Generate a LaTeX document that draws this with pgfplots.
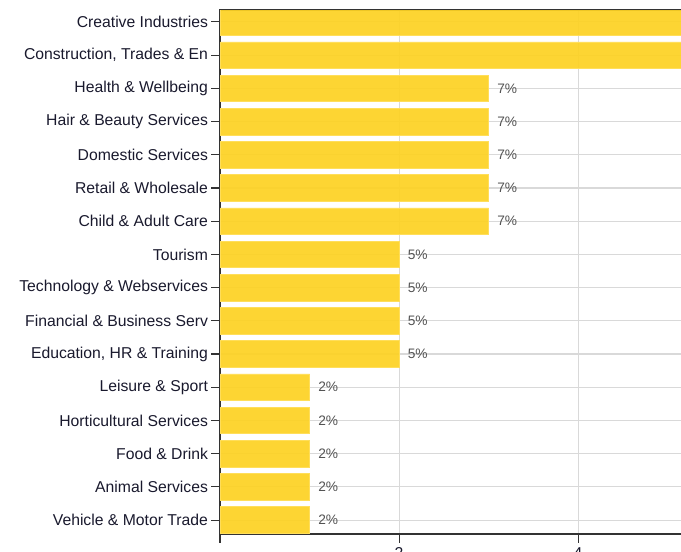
\documentclass[border=0pt]{standalone}
\usepackage{pgfplots}
\pgfplotsset{compat=1.18}
\usepackage{fontspec}
\setmainfont{Liberation Sans}
\definecolor{baryellow}{RGB}{253,210,36}
\definecolor{baredge}{RGB}{255,222,90}
\definecolor{gridgray}{RGB}{217,217,217}
\definecolor{labcol}{RGB}{70,70,70}
\definecolor{tickcol}{RGB}{25,25,45}
\pgfplotstableread[col sep=comma]{
idx,val,lab
0,8,{}
1,7,{}
2,3,7\%
3,3,7\%
4,3,7\%
5,3,7\%
6,3,7\%
7,2,5\%
8,2,5\%
9,2,5\%
10,2,5\%
11,1,2\%
12,1,2\%
13,1,2\%
14,1,2\%
15,1,2\%
}\datatable
\begin{document}
\begin{tikzpicture}
\useasboundingbox (0,0) rectangle (510.75pt,-414pt);
\clip (0,0) rectangle (510.75pt,-414pt);
\begin{axis}[
  at={(165pt,-7.5pt)}, anchor=north west,
  scale only axis, width=352pt, height=393pt,
  xbar, bar width=0.8, bar shift=0pt,
  xmin=0, xmax=5.243,
  ymin=-0.36, ymax=15.42, y dir=reverse,
  ytick={0,...,15},
  yticklabels={Creative Industries,{Construction, Trades \& En},Health \& Wellbeing,Hair \& Beauty Services,Domestic Services,Retail \& Wholesale,Child \& Adult Care,Tourism,Technology \& Webservices,Financial \& Business Serv,{Education, HR \& Training},Leisure \& Sport,Horticultural Services,Food \& Drink,Animal Services,Vehicle \& Motor Trade},
  xtick={0,2,4}, xticklabels={,2,4},
  tick align=outside, tick pos=left,
  major tick length=6.5pt,
  xmajorgrids, ymajorgrids,
  grid style={gridgray, line width=0.8pt},
  axis line style={black!80, line width=0.8pt},
  tick style={black!80, line width=0.8pt},
  tick label style={font=\fontsize{11.8pt}{13pt}\selectfont, text=tickcol},
  yticklabel style={xshift=1pt},
  /pgf/number format/assume math mode=true,
  nodes near coords,
  point meta=explicit symbolic,
  every node near coord/.append style={font=\fontsize{10.3pt}{12pt}\selectfont, text=labcol, anchor=west, xshift=3pt},
]
\addplot[fill=baryellow, draw=baredge, line width=0.5pt, fill opacity=0.93] table[x=val, y=idx, meta=lab] {\datatable};
\end{axis}
\end{tikzpicture}
\end{document}
